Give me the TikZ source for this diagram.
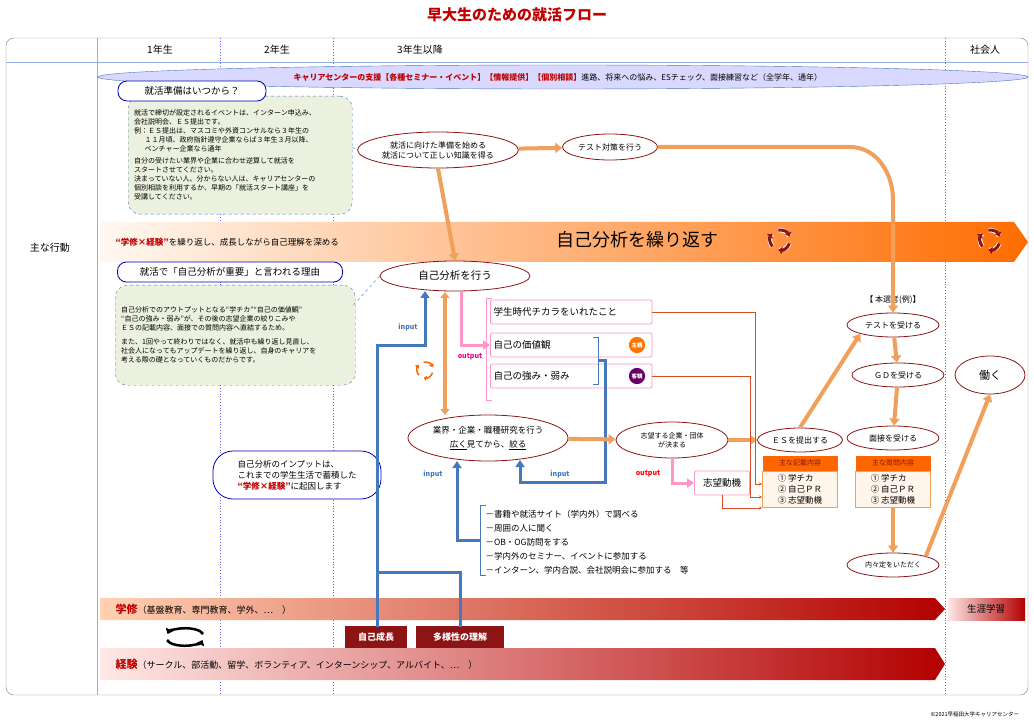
\documentclass[tikz,border=0pt]{standalone}
\usepackage{fontspec}
\setmainfont{Noto Sans CJK JP}
\usetikzlibrary{shapes.geometric,arrows.meta,positioning}
\definecolor{dred}{RGB}{192,0,0}
\definecolor{oval}{RGB}{140,20,20}
\definecolor{lblue}{RGB}{70,120,190}
\definecolor{pinkl}{RGB}{255,150,200}
\definecolor{orng}{RGB}{240,160,90}
\definecolor{grn}{RGB}{235,241,222}
\tikzstyle{ovalnode} = [ellipse, draw=oval, thick, fill=white, align=center, inner sep=1pt, font=\fontsize{8}{10}\selectfont]
\tikzstyle{pinkbox} = [rectangle, rounded corners=2pt, draw=pinkl, thick, fill=white, minimum height=24pt, align=left, font=\fontsize{9.5}{11}\selectfont]
\tikzstyle{notebox} = [rectangle, rounded corners=12pt, draw=lblue, dashed, fill=grn, align=left, font=\fontsize{7}{9}\selectfont, inner sep=6pt]
\tikzstyle{titlebox} = [rectangle, rounded corners=9pt, draw=blue!70!black, thick, fill=white, font=\fontsize{9.5}{11}\selectfont]
\tikzstyle{oarrow} = [draw=orng, line width=4pt, -{Triangle[length=7pt,width=10pt]}]
\tikzstyle{barrow} = [draw=lblue, line width=3pt, -{Triangle[length=7pt,width=9pt]}]
\tikzstyle{thinlink} = [draw=red!40!brown, ->, >=stealth]
\tikzstyle{listbox} = [rectangle, draw=orng, thick, fill=orange!8, align=left, font=\fontsize{8.5}{11}\selectfont, minimum width=75pt]
\tikzstyle{headbox} = [rectangle, fill=orange!80!red, text=oval, font=\fontsize{7}{9}\selectfont, minimum width=75pt, minimum height=15pt]
\newcommand{\cyc}[3]{%
  \foreach \a in {0,120,240}{
    \draw[white, line width=4.5pt] (#1,#2) ++(\a+20:#3) arc[start angle=\a+20, end angle=\a+95, radius=#3];
    \draw[oval, line width=3pt, -{Triangle[length=4pt,width=7pt]}] (#1,#2) ++(\a+20:#3) arc[start angle=\a+20, end angle=\a+100, radius=#3];}}
\begin{document}
\begin{tikzpicture}[x=1pt,y=-1pt]
\useasboundingbox (0,0) rectangle (1034,722);
% frame and header
\node (title) at (517,15) {\fontsize{15}{17}\selectfont\bfseries\color{dred}早大生のための就活フロー};
\draw[gray, rounded corners=8pt] (6,38) rectangle (1028,695);
\draw[lblue!60] (6,62) -- (1028,62);
\draw[lblue!60] (97,38) -- (97,695);
\foreach \x in {220,333,945} \draw[blue!60, dotted, line width=0.8pt] (\x,38) -- (\x,695);
\node at (160,50) {\fontsize{10}{12}\selectfont 1年生};
\node at (277,50) {\fontsize{10}{12}\selectfont 2年生};
\node at (420,50) {\fontsize{10}{12}\selectfont 3年生以降};
\node at (985,50) {\fontsize{10}{12}\selectfont 社会人};
\node at (50,248) {\fontsize{10}{12}\selectfont 主な行動};
% career center band
\node[ellipse, draw=lblue, fill=blue!15, minimum width=930pt, minimum height=24pt] (band) at (563,77) {};
\node[anchor=west, font=\fontsize{8}{10}\selectfont] at (290,77) {\textcolor{dred}{\bfseries キャリアセンターの支援【各種セミナー・イベント】【情報提供】【個別相談】}進路、将来への悩み、ESチェック、面接練習など（全学年、通年）};
% self analysis band
\shade[left color=orange!5, right color=orange!85!red] (100,222) -- (1014,222) -- (1028,242) -- (1014,262) -- (100,262) -- cycle;
\node[anchor=west, font=\fontsize{8.5}{10}\selectfont] at (112,242) {\textcolor{dred}{\bfseries “学修×経験”}を繰り返し、成長しながら自己理解を深める};
\node at (637,240) {\fontsize{18}{21}\selectfont 自己分析を繰り返す};
\cyc{780}{240}{10}
\cyc{990}{240}{10}
% notes
\node[notebox, text width=212pt, minimum height=118pt, anchor=north west] (note1) at (128,96) {就活で締切が設定されるイベントは、インターン申込み、\\会社説明会、ＥＳ提出です。\\例：ＥＳ提出は、マスコミや外資コンサルなら３年生の\\\hspace*{1.5em}１１月頃、政府指針遵守企業ならば３年生３月以降、\\\hspace*{1.5em}ベンチャー企業なら通年\\[3pt]自分の受けたい業界や企業に合わせ逆算して就活を\\スタートさせてください。\\決まっていない人、分からない人は、キャリアセンターの\\個別相談を利用するか、早期の「就活スタート講座」を\\受講してください。};
\node[titlebox, minimum width=148pt, minimum height=20pt] (q1) at (192,91) {就活準備はいつから？};
\node[notebox, text width=228pt, minimum height=100pt, anchor=north west] (note2) at (115,285) {自己分析でのアウトプットとなる“学チカ”“自己の価値観”\\“自己の強み・弱み”が、その後の志望企業の絞りこみや\\ＥＳの記載内容、面接での質問内容へ直結するため。\\[5pt]また、1回やって終わりではなく、就活中も繰り返し見直し、\\社会人になってもアップデートを繰り返し、自身のキャリアを\\考える際の礎となっていくものだからです。};
\node[titlebox, minimum width=225pt, minimum height=20pt] (q2) at (230,272) {就活で「自己分析が重要」と言われる理由};
% main flow
\node[ovalnode, minimum width=150pt, minimum height=36pt] (prep) at (438,150) {就活に向けた準備を始める\\就活について正しい知識を得る};
\node[ovalnode, minimum width=95pt, minimum height=26pt] (test) at (610,147) {テスト対策を行う};
\node[ovalnode, minimum width=150pt, minimum height=30pt, font=\fontsize{10.5}{12}\selectfont] (self) at (455,276) {自己分析を行う};
\node[ovalnode, minimum width=160pt, minimum height=46pt, font=\fontsize{8.5}{14}\selectfont] (ind) at (488,438) {業界・企業・職種研究を行う\\\underline{広く}見てから、\underline{絞る}};
\node[ovalnode, minimum width=112pt, minimum height=36pt, font=\fontsize{7}{9}\selectfont] (aim) at (672,440) {志望する企業・団体\\が決まる};
\node[ovalnode, minimum width=85pt, minimum height=24pt] (es) at (800,440) {ＥＳを提出する};
\node[ovalnode, minimum width=92pt, minimum height=24pt] (tjob) at (893,325) {テストを受ける};
\node[ovalnode, minimum width=92pt, minimum height=24pt] (gd) at (898,375) {ＧＤを受ける};
\node[ovalnode, minimum width=92pt, minimum height=24pt] (intv) at (893,438) {面接を受ける};
\node[ovalnode, minimum width=92pt, minimum height=24pt, font=\fontsize{7}{9}\selectfont] (offer) at (893,565) {内々定をいただく};
\node[ovalnode, minimum width=70pt, minimum height=38pt, font=\fontsize{11}{13}\selectfont] (work) at (990,375) {働く};
\node[font=\fontsize{8}{10}\selectfont] (honsen) at (893,300) {【 本選考(例)】};
% pink boxes
\node[pinkbox, text width=155pt, anchor=west] (gakuchika) at (490,312) {学生時代チカラをいれたこと};
\node[pinkbox, text width=155pt, anchor=west] (value) at (490,345) {自己の価値観};
\node[pinkbox, text width=155pt, anchor=west] (sw) at (490,376) {自己の強み・弱み};
\node[pinkbox, minimum width=55pt] (motive) at (722,483) {志望動機};
\node[circle, fill=orange!90!red, text=white, inner sep=1.5pt, font=\fontsize{5.5}{6}\selectfont\bfseries] (shukan) at (637,345) {主観};
\node[circle, fill=violet!80!black, text=white, inner sep=1.5pt, font=\fontsize{5.5}{6}\selectfont\bfseries] (kyakkan) at (637,376) {客観};
\draw[pinkl, thick] (492,298) -- (486,298) -- (486,400) -- (492,400);
\draw[lblue, thick] (593,337) -- (598,337) -- (598,384) -- (593,384);
% lists
\node[headbox] (head1) at (800,463) {主な記載内容};
\node[listbox, below=0pt of head1] (list1) {① 学チカ\\② 自己ＰＲ\\③ 志望動機};
\node[headbox] (head2) at (893,463) {主な質問内容};
\node[listbox, below=0pt of head2] (list2) {① 学チカ\\② 自己ＰＲ\\③ 志望動機};
% input box and list
\node[titlebox, rounded corners=20pt, minimum width=168pt, minimum height=48pt, align=left, font=\fontsize{8.5}{11}\selectfont] (inp) at (297,475) {自己分析のインプットは、\\これまでの学生生活で蓄積した\\\textcolor{dred}{\bfseries “学修×経験”}に起因します};
\node[anchor=north west, align=left, font=\fontsize{8.5}{14}\selectfont] (acts) at (482,507) {－書籍や就活サイト（学内外）で調べる\\－周囲の人に聞く\\－OB・OG訪問をする\\－学内外のセミナー、イベントに参加する\\－インターン、学内合説、会社説明会に参加する　等};
% bottom bands
\shade[left color=red!20!orange!30, right color=red!70!black] (100,598) -- (935,598) -- (945,609) -- (935,620) -- (100,620) -- cycle;
\shade[left color=orange!20!red!10, right color=red!70!black] (100,648) -- (935,648) -- (945,664) -- (935,680) -- (100,680) -- cycle;
\node[anchor=west, font=\fontsize{9}{11}\selectfont] (gaku) at (112,609) {\textcolor{dred}{\bfseries\fontsize{11}{13}\selectfont 学修}（基盤教育、専門教育、学外、…　）};
\node[anchor=west, font=\fontsize{9}{11}\selectfont] (keiken) at (112,664) {\textcolor{dred}{\bfseries\fontsize{11}{13}\selectfont 経験}（サークル、部活動、留学、ボランティア、インターンシップ、アルバイト、…　）};
\shade[left color=red!10, right color=red!70!black] (948,598) rectangle (1025,620);
\node[font=\fontsize{9.5}{11}\selectfont] (life) at (986,609) {生涯学習};
\node[fill=oval, text=white, font=\fontsize{9}{10}\selectfont\bfseries, minimum width=62pt, minimum height=22pt] (growth) at (376,637) {自己成長};
\node[fill=oval, text=white, font=\fontsize{9}{10}\selectfont\bfseries, minimum width=88pt, minimum height=22pt] (div) at (460,637) {多様性の理解};
\draw[black, line width=2.5pt, -{Triangle[length=5pt,width=8pt]}] (203,634) arc[start angle=-10, end angle=-170, x radius=18, y radius=7];
\draw[black, line width=2.5pt, -{Triangle[length=5pt,width=8pt]}] (167,640) arc[start angle=170, end angle=10, x radius=18, y radius=7];
% connectors
\draw[lblue, dashed] (note1.east) ++(0,-8) -- (prep.west);
\draw[lblue, dashed] (note2.north east) ++(-2,20) -- (self.west);
\draw[oarrow] (prep) -- (test);
\draw[oarrow] (prep.south) -- (self.north);
\draw[oarrow] (test.east) -- (850,147) to[out=0, in=90] (893,200) -- (tjob.north);
\draw[draw=orng, line width=4pt, {Triangle[length=6pt,width=9pt]}-{Triangle[length=6pt,width=9pt]}] (445,292) -- (445,415);
\foreach \a in {0,120,240}
  \draw[orange!80!red, line width=1.5pt, -{Triangle[length=3pt,width=5pt]}] (425,370) ++(\a+20:8) arc[start angle=\a+20, end angle=\a+100, radius=8];
\draw[pinkl, line width=3pt, -{Triangle[length=7pt,width=9pt]}] (461,291) -- (461,345) -- (value.west);
\node[text=magenta, font=\fontsize{7}{8}\selectfont\bfseries] at (470,357) {output};
\draw[barrow] (377,627) -- (377,345) -- (425,345) -- (425,291);
\node[text=lblue, font=\fontsize{7}{8}\selectfont\bfseries] at (408,327) {input};
\draw[lblue, line width=3pt] (460,627) -- (460,572) -- (377,572);
\draw[barrow] (480,540) -- (457,540) -- (457,461);
\draw[lblue, thick] (486,505) -- (480,505) -- (480,575) -- (486,575);
\node[text=lblue, font=\fontsize{7}{8}\selectfont\bfseries] at (433,474) {input};
\draw[barrow] (598,360) -- (605,360) -- (605,482) -- (520,482) -- (520,460);
\node[text=lblue, font=\fontsize{7}{8}\selectfont\bfseries] at (560,474) {input};
\draw[oarrow] (ind) -- (aim);
\draw[oarrow] (aim) -- (es);
\draw[pinkl, line width=3pt, -{Triangle[length=7pt,width=9pt]}] (672,458) -- (672,483) -- (motive.west);
\node[text=red, font=\fontsize{7}{8}\selectfont\bfseries] at (648,474) {output};
\draw[thinlink] (gakuchika.east) -- (755,312) -- (755,484) -- (list1.west |- 0,484);
\draw[thinlink] (sw.east) -- (750,376) -- (750,497) -- (list1.west |- 0,497);
\draw[thinlink] (motive.south) -- (722,508) -- (list1.west |- 0,508);
\draw[oarrow] (es.north) -- (tjob.south west);
\draw[oarrow] (tjob) -- (gd);
\draw[oarrow] (gd) -- (intv);
\draw[oarrow] (list2.south) -- (offer.north);
\draw[oarrow] (offer.north east) -- (work.south);
\node[font=\fontsize{5.5}{6}\selectfont] (copy) at (975,714) {©2021早稲田大学キャリアセンター};
\end{tikzpicture}
\end{document}
